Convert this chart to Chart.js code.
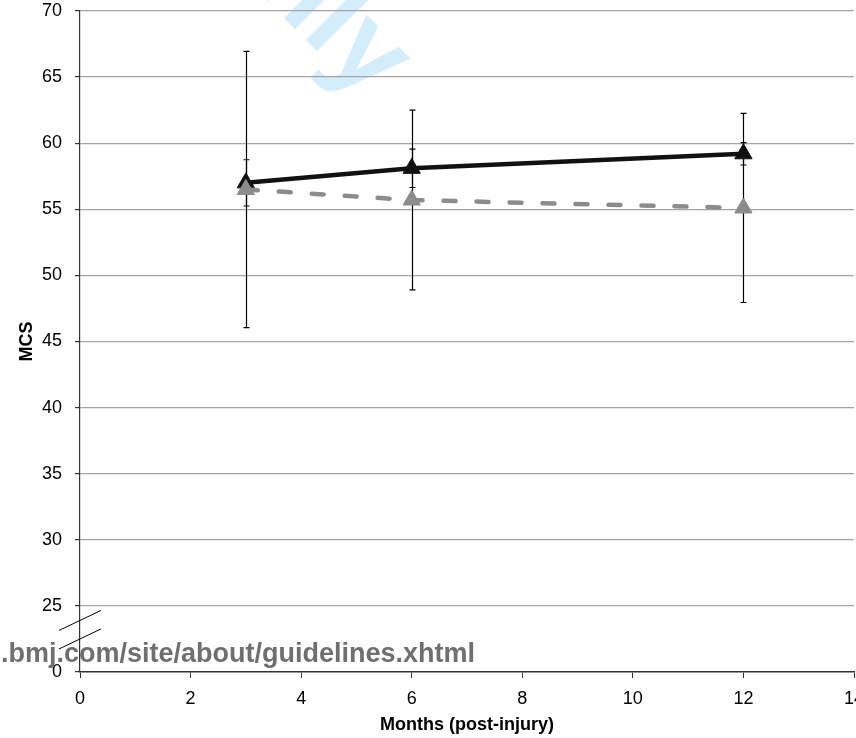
<!DOCTYPE html>
<html>
<head>
<meta charset="utf-8">
<script src="https://cdn.jsdelivr.net/npm/chart.js@4.4.0/dist/chart.umd.min.js"></script>
<style>
  html, body { margin: 0; padding: 0; background: #fff; overflow: hidden; }
  #frame { position: relative; width: 856px; height: 738px; overflow: hidden; }
  #wrap { position: absolute; left: 0; top: 0; width: 865px; height: 738px; }
  #url {
    position: absolute; left: 1px; top: 640px;
    font: bold 27px 'Liberation Sans', Arial, sans-serif; line-height: 27px;
    color: #6f6f6f; white-space: nowrap;
  }
</style>
</head>
<body>
<div id="frame">
  <div id="wrap"><canvas id="chart"></canvas></div>
  <div id="url">.bmj.com/site/about/guidelines.xhtml</div>
</div>
<script>
// MCS over time, two groups with SD error bars. Y axis is broken below 25.
const months = [3, 6, 12];
const blackMCS = [57.0, 58.1, 59.2];
const blackSD = [1.75, 1.45, 0.85];
const greyMCS = [56.5, 55.7, 55.1];
const greySD = [10.45, 6.8, 7.15];

const xTickValues = [0, 2, 4, 6, 8, 10, 12, 14];
const yTickValues = [20, 25, 30, 35, 40, 45, 50, 55, 60, 65, 70];
const yTickLabels = ['0', '25', '30', '35', '40', '45', '50', '55', '60', '65', '70'];

const FONT = "'Liberation Sans', Arial, sans-serif";

const watermark = {
  id: 'watermark',
  beforeDraw(chart) {
    const ctx = chart.ctx;
    ctx.save();
    ctx.translate(368, 102);
    ctx.rotate(Math.PI / 4);
    ctx.font = 'bold 115px ' + FONT;
    ctx.fillStyle = 'rgb(211,238,250)';
    ctx.textAlign = 'right';
    ctx.textBaseline = 'alphabetic';
    ctx.fillText('For peer review only', 0, 0);
    ctx.restore();
  }
};

const errorBars = {
  id: 'errorBars',
  beforeDatasetsDraw(chart) {
    const { ctx, scales: { x, y } } = chart;
    ctx.save();
    ctx.strokeStyle = '#000';
    ctx.lineWidth = 1.2;
    [[blackMCS, blackSD], [greyMCS, greySD]].forEach(([vals, sds]) => {
      months.forEach((m, i) => {
        const px = Math.round(x.getPixelForValue(m)) + 0.5;
        const top = y.getPixelForValue(vals[i] + sds[i]);
        const bot = y.getPixelForValue(vals[i] - sds[i]);
        ctx.beginPath();
        ctx.moveTo(px, top); ctx.lineTo(px, bot);
        ctx.moveTo(px - 3, top); ctx.lineTo(px + 3, top);
        ctx.moveTo(px - 3, bot); ctx.lineTo(px + 3, bot);
        ctx.stroke();
      });
    });
    ctx.restore();
  }
};

// the two slashes marking the break in the y axis
const axisBreak = {
  id: 'axisBreak',
  afterDraw(chart) {
    const { ctx, scales: { x, y } } = chart;
    const cx = x.getPixelForValue(0);
    ctx.save();
    ctx.strokeStyle = '#000';
    ctx.lineWidth = 1;
    [23.9, 22.5].forEach(v => {
      const cy = y.getPixelForValue(v);
      ctx.beginPath();
      ctx.moveTo(cx - 21, cy + 10);
      ctx.lineTo(cx + 21, cy - 10);
      ctx.stroke();
    });
    ctx.restore();
  }
};

new Chart(document.getElementById('chart'), {
  type: 'scatter',
  data: {
    datasets: [
      {
        label: 'Group 2',
        data: months.map((m, i) => ({ x: m, y: greyMCS[i] })),
        showLine: true,
        borderColor: '#8c8c8c',
        backgroundColor: '#8c8c8c',
        borderWidth: 4.5,
        borderDash: [12, 21],
        borderCapStyle: 'round',
        pointStyle: 'triangle',
        pointRadius: 10,
        pointBorderWidth: 1,
        order: 0,
      },
      {
        label: 'Group 1',
        data: months.map((m, i) => ({ x: m, y: blackMCS[i] })),
        showLine: true,
        borderColor: '#111',
        backgroundColor: '#111',
        borderWidth: 4.5,
        pointStyle: 'triangle',
        pointRadius: 10,
        pointBorderWidth: 1,
        order: 1,
      },
    ]
  },
  options: {
    responsive: true,
    maintainAspectRatio: false,
    animation: false,
    layout: { padding: { top: 8, right: 0, left: 0, bottom: 0 } },
    plugins: { legend: { display: false }, tooltip: { enabled: false } },
    scales: {
      x: {
        type: 'linear',
        min: 0, max: 14,
        afterBuildTicks: (s) => { s.ticks = xTickValues.map(v => ({ value: v })); },
        afterFit: (s) => { s.height = 66; s.paddingLeft = 0; s.paddingRight = 0; },
        ticks: { color: '#000', font: { family: FONT, size: 18 }, padding: 10, maxRotation: 0, autoSkip: false },
        grid: { drawOnChartArea: false, tickLength: 6, tickColor: '#333' },
        border: { color: '#333', width: 1.5 },
        title: {
          display: true, text: 'Months (post-injury)', color: '#000',
          font: { family: FONT, size: 18, weight: 'bold' }, padding: { top: 0, bottom: 2 }
        }
      },
      y: {
        type: 'linear',
        min: 20, max: 70,
        afterBuildTicks: (s) => { s.ticks = yTickValues.map(v => ({ value: v })); },
        afterFit: (s) => { s.width = 80; s.paddingTop = 0; s.paddingBottom = 0; },
        ticks: {
          color: '#000', font: { family: FONT, size: 18 }, padding: 13, autoSkip: false,
          callback: (v, i) => yTickLabels[i]
        },
        grid: {
          color: (c) => c.tick && c.tick.value === 20 ? 'rgba(0,0,0,0)' : '#a4a4a4',
          lineWidth: 1.2,
          tickLength: 5,
          tickColor: '#333'
        },
        border: { color: '#333', width: 1.2 },
        title: {
          display: true, text: 'MCS', color: '#000',
          font: { family: FONT, size: 18, weight: 'bold' }, padding: { top: 16, bottom: 0 }
        }
      }
    }
  },
  plugins: [watermark, errorBars, axisBreak]
});
</script>
</body>
</html>
